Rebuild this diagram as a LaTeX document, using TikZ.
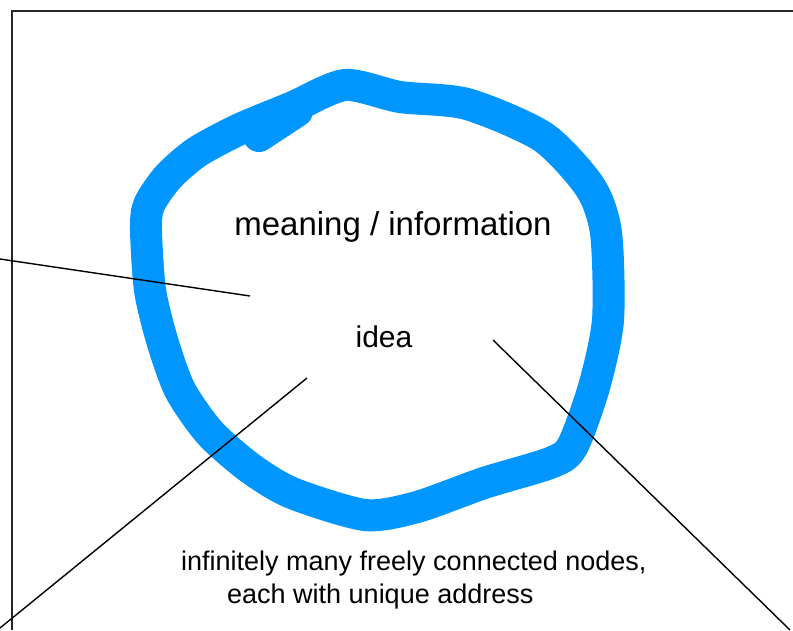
\documentclass[tikz,border=0pt]{standalone}
\usepackage{fontspec}
\setmainfont{Liberation Sans}
\definecolor{loopblue}{RGB}{0,150,255}
\tikzset{
  loopline/.style={loopblue, line width=32pt, line cap=round, line join=round},
  wire/.style={black, line width=1.4pt},
  frameline/.style={black!85, line width=1.8pt},
  caption/.style={inner sep=0pt, font=\fontsize{#1}{#1}\selectfont},
}
\begin{document}
\begin{tikzpicture}[x=1pt,y=-1pt]
  \useasboundingbox (0,0) rectangle (793,630);
  \draw[frameline] (793,11) -- (12,11) -- (12,630);
  % the hand drawn loop and where the pen started
  \draw[loopline] plot[smooth cycle,tension=0.45] coordinates {(293,107) (345,85) (400,97) (467,104) (543,137) (590,187) (606,233) (608,320) (594,387) (572,447) (550,463) (484,483) (417,507) (365,515) (292,493) (250,468) (210,433) (180,390) (162,340) (150,290) (146,230) (149,205) (168,177) (197,152) (240,129)};
  \draw[loopline] (259,136) -- (297,111);
  \node[caption=33, anchor=base] (meaning) at (393,235) {meaning / information};
  \node[caption=30, anchor=base] (idea) at (384,347) {idea};
  \node[caption=27, anchor=base west] (nodes) at (181,570) {infinitely many freely connected nodes,};
  \node[caption=27, anchor=base west] (address) at (227,603) {each with unique address};
  \coordinate (w1a) at (0,259);
  \coordinate (w1b) at (250,296);
  \coordinate (w2a) at (0,628);
  \coordinate (w2b) at (307,378);
  \coordinate (w3a) at (493,340);
  \coordinate (w3b) at (790,630);
  \foreach \a/\b in {w1a/w1b, w2a/w2b, w3a/w3b}
    \draw[wire] (\a) -- (\b);
\end{tikzpicture}
\end{document}
